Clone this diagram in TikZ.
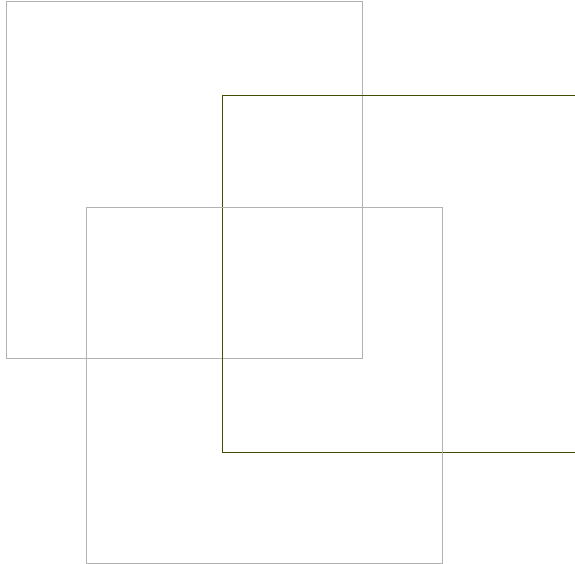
\documentclass[tikz,border=0pt]{standalone}
\definecolor{boxgray}{RGB}{178,178,178}
\definecolor{boxolive}{RGB}{64,80,0}
\begin{document}
\begin{tikzpicture}[x=1pt,y=-1pt,
  graybox/.style={draw=boxgray,line width=1pt},
  olivebox/.style={draw=boxolive,line width=1pt}]
\useasboundingbox (0,0) rectangle (575,564);
\begin{scope}
\clip (0,0) rectangle (575,564);
\draw[graybox] (6,2) rectangle (362,358);
\draw[olivebox] (222,96) rectangle (578,452);
\draw[graybox] (86,207) rectangle (442,563);
\end{scope}
\end{tikzpicture}
\end{document}
